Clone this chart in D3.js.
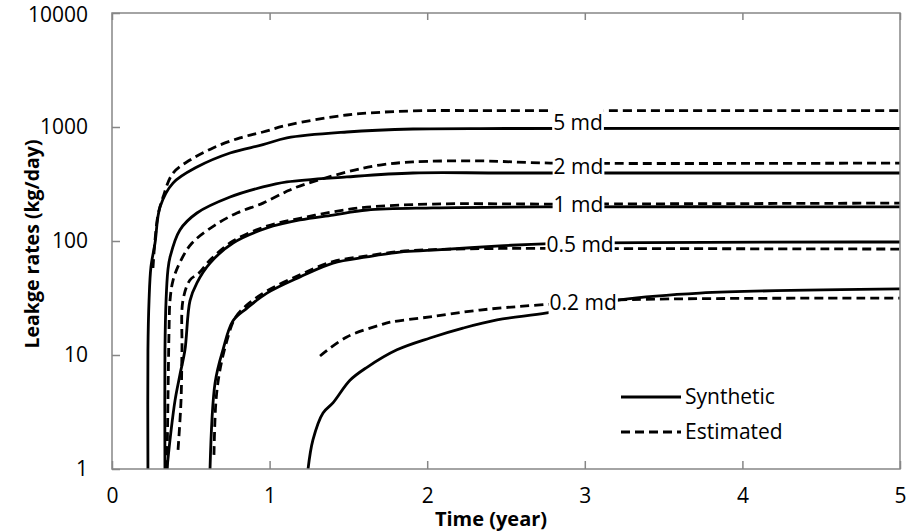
<!DOCTYPE html>
<html>
<head>
<meta charset="utf-8">
<script src="https://cdn.jsdelivr.net/npm/d3@7"></script>
<style>
  body { margin: 0; background: #fff; }
  text { font-family: "Open Sans", Lato, sans-serif; fill: #000; }
</style>
</head>
<body>
<div id="chart"></div>
<script>
// Leakage rates: synthetic vs estimated, for five permeabilities

const xTicks = [0, 1, 2, 3, 4, 5];
const yTicks = [1, 10, 100, 1000, 10000];

// [time (year), leakage rate (kg/day)]
const syn5 = [[0.228,1],[0.228,11],[0.235,30],[0.247,59],[0.273,96],[0.305,199],[0.387,322],[0.539,445],[0.749,591],[0.958,700],[1.11,803],[1.49,904],[1.91,960],[2.5,970],[5,970]];
const est5 = [[0.26,58],[0.273,102],[0.292,169],[0.324,243],[0.387,394],[0.495,513],[0.641,655],[0.812,803],[0.958,904],[1.11,1035],[1.49,1274],[1.91,1383],[2.5,1390],[5,1390]];
const syn2 = [[0.336,1],[0.336,11],[0.343,30],[0.355,56],[0.368,72],[0.431,125],[0.539,176],[0.749,243],[0.958,298],[1.11,330],[1.49,365],[1.91,395],[2.5,395],[5,395]];
const est2 = [[0.349,1],[0.355,4],[0.362,16.6],[0.368,30],[0.387,45],[0.431,65],[0.508,96],[0.654,138],[0.793,176],[0.958,215],[1.098,268],[1.174,298],[1.49,403],[1.70,464],[1.91,494],[2.335,504],[2.78,483],[5,483]];
const syn1 = [[0.349,1],[0.368,1.8],[0.40,4],[0.431,6.7],[0.463,11.1],[0.495,30],[0.539,43],[0.622,64],[0.768,96],[0.983,130],[1.193,153],[1.402,169],[1.618,187],[2.037,195],[2.78,199],[5,199]];
const est1 = [[0.419,1.47],[0.438,4],[0.444,11.1],[0.45,30],[0.495,45.5],[0.55,52],[0.622,68],[0.768,100],[0.983,135],[1.193,158],[1.402,180],[1.618,198],[2.037,211],[2.78,211],[5,215]];
const syn05 = [[0.622,1],[0.654,5.7],[0.704,11.1],[0.768,20],[0.857,25.8],[0.983,34.9],[1.193,48.4],[1.402,64],[1.618,72.5],[1.827,80],[2.037,83],[2.46,90.5],[2.78,95],[5,98]];
const est05 = [[0.647,1.33],[0.66,4],[0.685,7.4],[0.73,13.5],[0.78,21],[0.857,27.5],[0.983,36.5],[1.193,50.5],[1.402,66],[1.618,74],[1.827,81],[2.037,84],[2.46,86],[2.78,86],[5,85]];
const syn02 = [[1.244,1],[1.275,1.8],[1.339,3.1],[1.402,3.8],[1.51,6.0],[1.618,7.8],[1.808,11.1],[2.018,14.1],[2.227,17.2],[2.443,20.3],[2.76,23.4],[3.22,30.4],[3.73,34.9],[5,38]];
const est02 = [[1.32,9.8],[1.49,14.4],[1.70,18.3],[1.764,19.4],[2.018,21.6],[2.335,24.8],[2.716,27.5],[3.22,30.4],[5,31.5]];

const synthetic = [syn5, syn2, syn1, syn05, syn02];
const estimated = [est5, est2, est1, est05, est02];

// curve labels: text, time, rate
const labels = [["5 md", 2.957, 1084], ["2 md", 2.96, 446], ["1 md", 2.96, 207], ["0.5 md", 2.97, 92], ["0.2 md", 2.99, 28.6]];
const legendNames = ["Synthetic", "Estimated"];

const width = 916, height = 531;
const margin = {top: 13, right: 16, bottom: 62, left: 112};

const svg = d3.select("#chart").append("svg")
    .attr("width", width)
    .attr("height", height);

const x = d3.scaleLinear().domain([0, 5]).range([margin.left, width - margin.right]);
const y = d3.scaleLog().domain([1, 10000]).range([height - margin.bottom, margin.top]);

svg.append("clipPath").attr("id", "plot")
  .append("rect")
    .attr("x", x(0)).attr("y", y(10000))
    .attr("width", x(5) - x(0)).attr("height", y(1) - y(10000));

const line = d3.line()
    .x(d => x(d[0]))
    .y(d => y(d[1]))
    .curve(d3.curveCatmullRom.alpha(0.5));

const lines = svg.append("g").attr("clip-path", "url(#plot)");

lines.selectAll("path.syn")
  .data(synthetic)
  .enter().append("path")
    .attr("class", "syn")
    .attr("d", line)
    .attr("fill", "none")
    .attr("stroke", "#000")
    .attr("stroke-width", 2.8);

lines.selectAll("path.est")
  .data(estimated)
  .enter().append("path")
    .attr("class", "est")
    .attr("d", line)
    .attr("fill", "none")
    .attr("stroke", "#000")
    .attr("stroke-width", 2.8)
    .attr("stroke-dasharray", "9,5");

// curve labels with white backing that breaks the lines
const lab = svg.append("g").selectAll("g")
  .data(labels)
  .enter().append("g")
    .attr("transform", d => `translate(${x(d[1])},${y(d[2])})`);

lab.append("text")
    .attr("text-anchor", "middle")
    .attr("dy", "0.35em")
    .style("font-size", "21px")
    .text(d => d[0]);

lab.each(function() {
  const g = d3.select(this);
  const b = g.select("text").node().getBBox();
  g.insert("rect", "text")
      .attr("x", b.x - 1).attr("y", b.y - 1)
      .attr("width", b.width + 2).attr("height", b.height + 1)
      .attr("fill", "#fff");
});

// frame
const frameColor = "#868686";
svg.append("rect")
    .attr("x", x(0)).attr("y", y(10000))
    .attr("width", x(5) - x(0)).attr("height", y(1) - y(10000))
    .attr("fill", "none")
    .attr("stroke", frameColor)
    .attr("stroke-width", 1.5);

// axes
const xAxis = svg.append("g")
    .attr("transform", `translate(0,${y(1)})`)
    .call(d3.axisBottom(x).tickValues(xTicks).tickSize(-8).tickPadding(19).tickFormat(d3.format("d")));

const xTop = svg.append("g")
    .attr("transform", `translate(0,${y(10000)})`)
    .call(d3.axisTop(x).tickValues(xTicks).tickSize(-7).tickFormat(""));

const yAxis = svg.append("g")
    .attr("transform", `translate(${x(0)},0)`)
    .call(d3.axisLeft(y).tickValues(yTicks).tickSize(-8).tickPadding(24).tickFormat(d3.format("d")));

[xAxis, xTop, yAxis].forEach(a => {
  a.select(".domain").remove();
  a.selectAll(".tick line").attr("stroke", frameColor).attr("stroke-width", 1.5);
  a.selectAll(".tick text").style("font-size", "21px").attr("fill", "#000");
});
// keep the top label inside the page
yAxis.selectAll(".tick text").filter(d => d === 10000).attr("dy", "0.42em");

// axis titles
svg.append("text")
    .attr("x", 491).attr("y", 526)
    .attr("text-anchor", "middle")
    .style("font-size", "20px")
    .style("font-weight", "bold")
    .text("Time (year)");

svg.append("text")
    .attr("transform", `translate(39,${(y(1) + y(10000)) / 2 + 3}) rotate(-90)`)
    .attr("text-anchor", "middle")
    .style("font-size", "19.5px")
    .style("font-weight", "bold")
    .text("Leakge rates (kg/day)");

// legend
const legend = svg.append("g").attr("transform", "translate(621,397)");
const item = legend.selectAll("g")
  .data(legendNames)
  .enter().append("g")
    .attr("transform", (d, i) => `translate(0,${i * 35})`);

item.append("line")
    .attr("x1", 0).attr("x2", 60)
    .attr("stroke", "#000")
    .attr("stroke-width", 2.8)
    .attr("stroke-dasharray", (d, i) => i ? "9,5" : null);

item.append("text")
    .attr("x", 64)
    .attr("dy", "0.35em")
    .style("font-size", "21px")
    .text(d => d);
</script>
</body>
</html>
